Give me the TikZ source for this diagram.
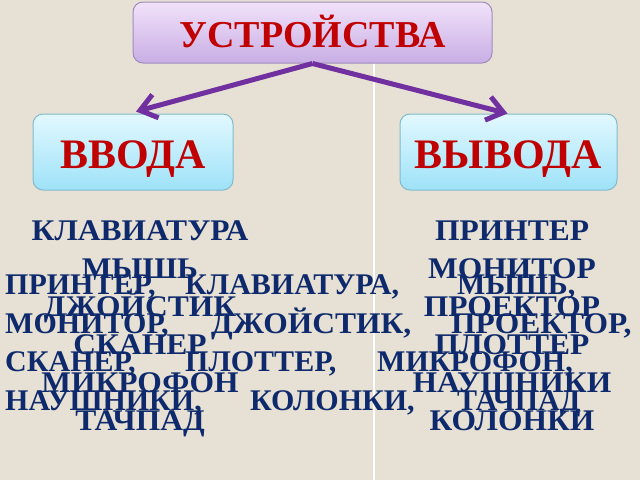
\documentclass[tikz,border=0pt]{standalone}
\usepackage{fontspec}
\setmainfont{Liberation Serif}
\newfontfamily\colfont[FakeStretch=1.05]{Liberation Serif}
\usetikzlibrary{arrows.meta}
\definecolor{bgcol}{RGB}{231,225,213}
\definecolor{titlered}{RGB}{192,0,0}
\definecolor{navy}{RGB}{14,42,108}
\definecolor{arrowpurple}{RGB}{112,48,160}
\definecolor{toptop}{RGB}{242,226,250}
\definecolor{topbot}{RGB}{200,174,228}
\definecolor{topborder}{RGB}{160,140,188}
\definecolor{bluetop}{RGB}{226,248,255}
\definecolor{bluebot}{RGB}{158,226,248}
\definecolor{blueborder}{RGB}{130,186,204}
\tikzset{
  titlebox/.style={draw=topborder, top color=toptop, bottom color=topbot,
    rounded corners=10pt, line width=1pt, inner sep=0pt, text=titlered,
    font=\bfseries\fontsize{38}{38}\selectfont, text height=29pt, text depth=0pt},
  subbox/.style={draw=blueborder, top color=bluetop, bottom color=bluebot,
    rounded corners=10pt, line width=1pt, inner sep=0pt, text=titlered,
    font=\bfseries\fontsize{42}{42}\selectfont, text height=32pt, text depth=0pt},
  arrowline/.style={draw=arrowpurple, line width=5pt,
    -{Straight Barb[length=16pt,width=24pt]}},
  paraword/.style={anchor=base west, inner sep=0pt, text=navy,
    font=\bfseries\fontsize{30}{30}\selectfont},
  parawide/.style={anchor=base west, inner sep=0pt, text=navy,
    font=\colfont\bfseries\fontsize{30}{30}\selectfont},
  colword/.style={anchor=base, inner sep=0pt, text=navy,
    font=\colfont\bfseries\fontsize{30}{30}\selectfont},
  divider/.style={draw=white, line width=1.2pt}
}
\begin{document}
\begin{tikzpicture}[x=1pt,y=-1pt]
\useasboundingbox (0,0) rectangle (640,480);
\fill[bgcol] (0,0) rectangle (640,480);
% divider line
\coordinate (divtop) at (374,63);
\coordinate (divbot) at (374,480);
\draw[divider] (divtop) -- (divbot);
% boxes
\node[titlebox, minimum width=359pt, minimum height=61pt] (dev) at (312.5,32.5) {УСТРОЙСТВА};
\node[subbox, minimum width=200pt, minimum height=76pt] (vvod) at (133,152) {ВВОДА};
\node[subbox, minimum width=217pt, minimum height=76pt] (vyvod) at (508.5,152) {ВЫВОДА};
% arrows
\draw[arrowline] (dev.south) -- ([xshift=3pt,yshift=2pt]vvod.north);
\draw[arrowline] (dev.south) -- ([xshift=-1pt,yshift=0pt]vyvod.north);
% left column
\node[colword] (l1) at (140,240) {КЛАВИАТУРА};
\node[colword] (l2) at (140,278) {МЫШЬ};
\node[colword] (l3) at (140,316) {ДЖОЙСТИК};
\node[colword] (l4) at (140,354) {СКАНЕР};
\node[colword] (l5) at (140,392) {МИКРОФОН};
\node[colword] (l6) at (140,430) {ТАЧПАД};
% right column
\node[colword] (r1) at (512,240) {ПРИНТЕР};
\node[colword] (r2) at (512,278) {МОНИТОР};
\node[colword] (r3) at (512,316) {ПРОЕКТОР};
\node[colword] (r4) at (512,354) {ПЛОТТЕР};
\node[colword] (r5) at (512,392) {НАУШНИКИ};
\node[colword] (r6) at (512,430) {КОЛОНКИ};
% paragraph
\node[paraword] (p11) at (5,294) {ПРИНТЕР,};
\node[paraword] (p12) at (185,294) {КЛАВИАТУРА,};
\node[paraword] (p13) at (457,294) {МЫШЬ,};
\node[paraword] (p21) at (5,333) {МОНИТОР,};
\node[parawide] (p22) at (211,333) {ДЖОЙСТИК,};
\node[parawide] (p23) at (451,333) {ПРОЕКТОР,};
\node[paraword] (p31) at (5,371) {СКАНЕР,};
\node[paraword] (p32) at (185,371) {ПЛОТТЕР,};
\node[paraword] (p33) at (377,371) {МИКРОФОН,};
\node[paraword] (p41) at (5,410) {НАУШНИКИ,};
\node[paraword] (p42) at (250,410) {КОЛОНКИ,};
\node[paraword] (p43) at (457,410) {ТАЧПАД};
\end{tikzpicture}
\end{document}
